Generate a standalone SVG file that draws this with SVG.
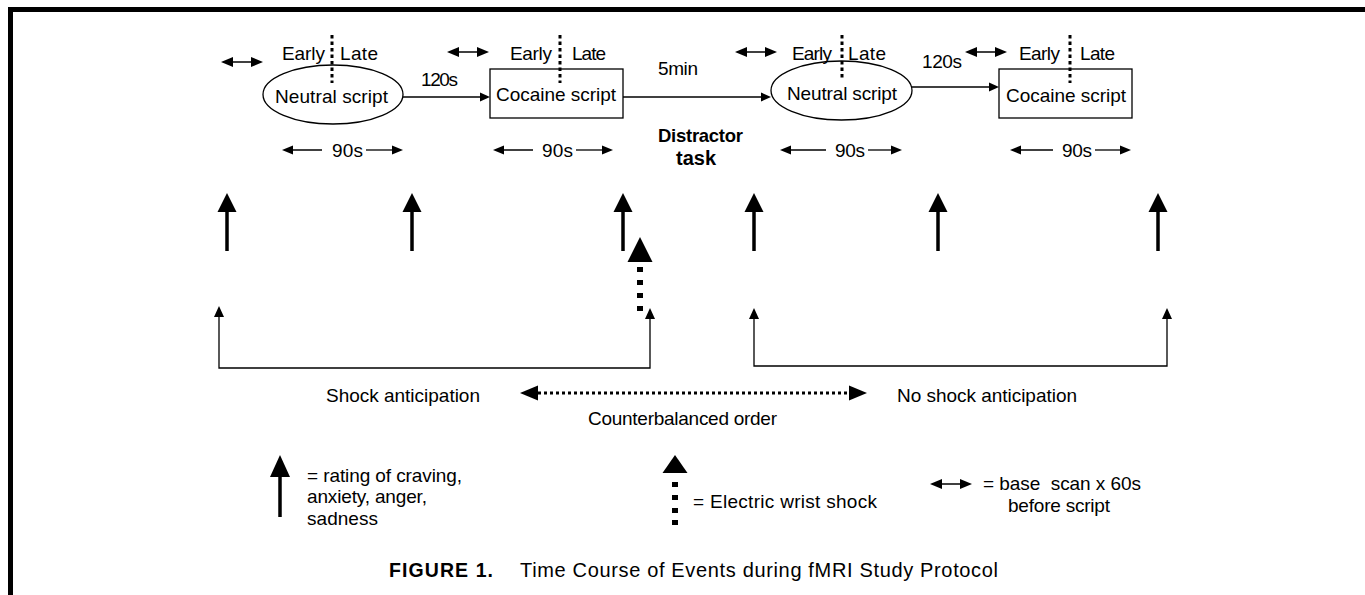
<svg xmlns="http://www.w3.org/2000/svg" xmlns:xlink="http://www.w3.org/1999/xlink" width="1365" height="595" viewBox="0 0 1365 595">
<style>
text{font-family:"Liberation Sans",Arial,sans-serif;font-size:19px;fill:#000}
.b{font-weight:bold;font-size:18.5px}
.cap{font-size:20px}
.capb{font-size:19.5px;font-weight:bold}
.ln{stroke:#000;stroke-width:1.3;fill:none}
.sep{stroke:#000;stroke-width:3;stroke-dasharray:3.5,3;fill:none}
.dot{stroke:#000;stroke-width:3;stroke-dasharray:3,3;fill:none}
.hd{fill:#000;stroke:none}
.node{fill:#fff;stroke:#000;stroke-width:1.3}
</style>
<defs>
<g id="dbl">
<line x1="6" y1="0" x2="36" y2="0" stroke="#000" stroke-width="1.5"/>
<polygon class="hd" points="0,0 12,-5 12,5"/>
<polygon class="hd" points="42,0 30,-5 30,5"/>
</g>
<g id="rate">
<polygon class="hd" points="0,0 -9.5,19 9.5,19"/>
<line x1="0" y1="17" x2="0" y2="58" stroke="#000" stroke-width="3.5"/>
</g>
<g id="shock">
<polygon class="hd" points="0,0 -12.5,25 12.5,25"/>
<rect x="-3" y="30" width="6" height="5"/>
<rect x="-3" y="43" width="6" height="5"/>
<rect x="-3" y="56" width="6" height="5"/>
<rect x="-3" y="69" width="6" height="5"/>
</g>
<polygon id="thinhd" class="hd" points="0,0 -5,11 5,11"/>
</defs>

<rect x="0" y="0" width="1365" height="595" fill="#fff"/>
<g id="frame">
<line x1="8" y1="9.5" x2="1365" y2="9.5" stroke="#000" stroke-width="5"/>
<line x1="10.5" y1="7" x2="10.5" y2="595" stroke="#000" stroke-width="5"/>
</g>

<g id="node-neutral1">
<ellipse class="node" cx="333" cy="94.5" rx="70" ry="29.5"/>
<text x="275" y="103" textLength="113" lengthAdjust="spacing">Neutral script</text>
<text x="282" y="60" textLength="43" lengthAdjust="spacing">Early</text>
<text x="340" y="60" textLength="38" lengthAdjust="spacing">Late</text>
<line class="sep" x1="332" y1="35" x2="332" y2="83"/>
<use xlink:href="#dbl" x="221" y="62"/>
</g>

<g id="node-cocaine1">
<rect class="node" x="490" y="69" width="133" height="49"/>
<text x="496" y="101" textLength="120" lengthAdjust="spacing">Cocaine script</text>
<text x="510" y="60" textLength="42" lengthAdjust="spacing">Early</text>
<text x="572" y="60" textLength="34" lengthAdjust="spacing">Late</text>
<line class="sep" x1="560" y1="35" x2="560" y2="83"/>
<use xlink:href="#dbl" x="447" y="52"/>
</g>

<g id="node-neutral2">
<ellipse class="node" cx="841.5" cy="90.5" rx="70.5" ry="29.5"/>
<text x="787" y="100" textLength="110" lengthAdjust="spacing">Neutral script</text>
<text x="792" y="60" textLength="40" lengthAdjust="spacing">Early</text>
<text x="848" y="60" textLength="38" lengthAdjust="spacing">Late</text>
<line class="sep" x1="842" y1="35" x2="842" y2="78"/>
<use xlink:href="#dbl" x="735" y="52"/>
</g>

<g id="node-cocaine2">
<rect class="node" x="999" y="69" width="133" height="49"/>
<text x="1006" y="102" textLength="120" lengthAdjust="spacing">Cocaine script</text>
<text x="1019" y="60" textLength="41" lengthAdjust="spacing">Early</text>
<text x="1080" y="60" textLength="35" lengthAdjust="spacing">Late</text>
<line class="sep" x1="1070" y1="35" x2="1070" y2="83"/>
<use xlink:href="#dbl" x="965" y="52"/>
</g>

<g id="connectors">
<line class="ln" x1="403" y1="97" x2="482" y2="97"/>
<polygon class="hd" points="490,97 480,92.5 480,101.5"/>
<text x="421" y="86" textLength="37" lengthAdjust="spacing">120s</text>
<line class="ln" x1="623" y1="97" x2="763" y2="97"/>
<polygon class="hd" points="771,97 761,92.5 761,101.5"/>
<text x="658" y="75" textLength="40" lengthAdjust="spacing">5min</text>
<line class="ln" x1="912" y1="87" x2="991" y2="87"/>
<polygon class="hd" points="999,87 989,82.5 989,91.5"/>
<text x="922" y="68" textLength="40" lengthAdjust="spacing">120s</text>
</g>

<g id="durations">
<line class="ln" x1="288" y1="150" x2="322" y2="150"/>
<polygon class="hd" points="282,150 293,145.5 293,154.5"/>
<text x="332" y="157" textLength="31" lengthAdjust="spacing">90s</text>
<line class="ln" x1="366" y1="150" x2="397" y2="150"/>
<polygon class="hd" points="403,150 392,145.5 392,154.5"/>

<line class="ln" x1="499" y1="150" x2="533" y2="150"/>
<polygon class="hd" points="493,150 504,145.5 504,154.5"/>
<text x="542" y="157" textLength="31" lengthAdjust="spacing">90s</text>
<line class="ln" x1="576" y1="150" x2="607" y2="150"/>
<polygon class="hd" points="613,150 602,145.5 602,154.5"/>

<line class="ln" x1="786" y1="150" x2="826" y2="150"/>
<polygon class="hd" points="780,150 791,145.5 791,154.5"/>
<text x="835" y="157" textLength="30" lengthAdjust="spacing">90s</text>
<line class="ln" x1="868" y1="150" x2="896" y2="150"/>
<polygon class="hd" points="902,150 891,145.5 891,154.5"/>

<line class="ln" x1="1016" y1="150" x2="1053" y2="150"/>
<polygon class="hd" points="1010,150 1021,145.5 1021,154.5"/>
<text x="1062" y="157" textLength="30" lengthAdjust="spacing">90s</text>
<line class="ln" x1="1095" y1="150" x2="1125" y2="150"/>
<polygon class="hd" points="1131,150 1120,145.5 1120,154.5"/>
</g>

<g id="distractor">
<text class="b" x="658" y="142" textLength="85" lengthAdjust="spacing">Distractor</text>
<text class="b" x="696" y="165" text-anchor="middle" style="font-size:20px">task</text>
</g>

<g id="ratings">
<use xlink:href="#rate" x="227" y="193"/>
<use xlink:href="#rate" x="412" y="193"/>
<use xlink:href="#rate" x="623" y="193"/>
<use xlink:href="#rate" x="754" y="193"/>
<use xlink:href="#rate" x="938" y="193"/>
<use xlink:href="#rate" x="1158" y="193"/>
<use xlink:href="#shock" x="640" y="237"/>
</g>

<g id="brackets">
<path class="ln" d="M219,316 V368 H650 V318"/>
<use xlink:href="#thinhd" x="219" y="306"/>
<use xlink:href="#thinhd" x="650" y="308"/>
<path class="ln" d="M754,318 V366 H1167 V318"/>
<use xlink:href="#thinhd" x="754" y="308"/>
<use xlink:href="#thinhd" x="1167" y="308"/>
</g>

<g id="order">
<text x="326" y="402" textLength="154" lengthAdjust="spacing">Shock anticipation</text>
<line class="dot" x1="538" y1="393" x2="850" y2="393"/>
<polygon class="hd" points="520,393 538,385.5 538,400.5"/>
<polygon class="hd" points="867,393 849,385.5 849,400.5"/>
<text x="588" y="425" textLength="189" lengthAdjust="spacing">Counterbalanced order</text>
<text x="897" y="402" textLength="180" lengthAdjust="spacing">No shock anticipation</text>
</g>

<g id="legend">
<polygon class="hd" points="280,455 270,477 290,477"/>
<line x1="280" y1="474" x2="280" y2="517" stroke="#000" stroke-width="3.5"/>
<text x="307" y="482" textLength="155" lengthAdjust="spacing">= rating of craving,</text>
<text x="307" y="503" textLength="120" lengthAdjust="spacing">anxiety, anger,</text>
<text x="307" y="525" textLength="71" lengthAdjust="spacing">sadness</text>

<polygon class="hd" points="675,455 662.5,473 687.5,473"/>
<rect x="672" y="482" width="6" height="5"/>
<rect x="672" y="495" width="6" height="5"/>
<rect x="672" y="508" width="6" height="5"/>
<rect x="672" y="520" width="6" height="5"/>
<text x="693" y="508" textLength="184" lengthAdjust="spacing">= Electric wrist shock</text>

<use xlink:href="#dbl" x="930" y="484"/>
<text x="983" y="490" textLength="158" lengthAdjust="spacing" xml:space="preserve">= base  scan x 60s</text>
<text x="1008" y="512" textLength="102" lengthAdjust="spacing">before script</text>
</g>

<g id="caption">
<text class="capb" x="389" y="577" textLength="104" lengthAdjust="spacing">FIGURE 1.</text>
<text class="cap" x="520" y="577" textLength="478" lengthAdjust="spacing">Time Course of Events during fMRI Study Protocol</text>
</g>
</svg>
